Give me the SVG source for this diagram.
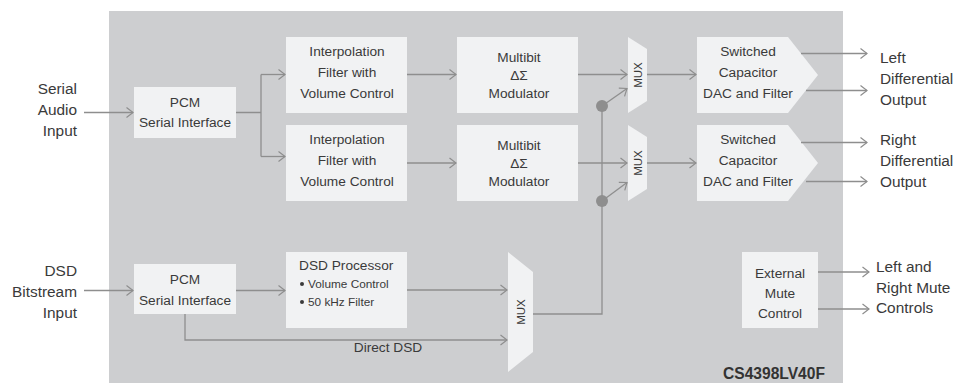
<svg xmlns="http://www.w3.org/2000/svg" width="969" height="392" viewBox="0 0 969 392">
<defs>
<marker id="ah" markerUnits="userSpaceOnUse" markerWidth="10" markerHeight="12" refX="7" refY="6" orient="auto" overflow="visible">
<path d="M0.5,1 L7,6 L0.5,11" fill="none" stroke="#8e8e8e" stroke-width="1.2"/>
</marker>
<style>
.bg{fill:#cdced0}
.box{fill:#f1f2f3}
.t{font-family:"Liberation Sans",Arial,sans-serif;font-size:13.7px;fill:#3a3a3a;text-anchor:middle}
.l{font-family:"Liberation Sans",Arial,sans-serif;font-size:15.4px;fill:#3a3a3a}
.s{font-family:"Liberation Sans",Arial,sans-serif;font-size:11.8px;fill:#3a3a3a}
.m{font-family:"Liberation Sans",Arial,sans-serif;font-size:11.5px;fill:#3a3a3a;text-anchor:middle;dominant-baseline:central}
.c{fill:none;stroke:#8e8e8e;stroke-width:1.3}
.a{marker-end:url(#ah)}
.dot{fill:#8e8e8e}
</style>
</defs>
<rect class="bg" x="109" y="11" width="734" height="372"/>

<g id="pcm1"><rect class="box" x="134" y="87" width="102" height="51"/>
<text class="t" x="185" y="107">PCM</text><text class="t" x="185" y="127">Serial Interface</text></g>
<g id="interp1"><rect class="box" x="286" y="37" width="121" height="76"/>
<text class="t" x="347" y="55.5">Interpolation</text><text class="t" x="347" y="76.5">Filter with</text><text class="t" x="347" y="97.5">Volume Control</text></g>
<g id="interp2"><rect class="box" x="286" y="125" width="121" height="76"/>
<text class="t" x="347" y="143.5">Interpolation</text><text class="t" x="347" y="164.5">Filter with</text><text class="t" x="347" y="185.5">Volume Control</text></g>
<g id="mod1"><rect class="box" x="457" y="37" width="121" height="76"/>
<text class="t" x="519" y="62">Multibit</text><text class="t" x="519" y="80">ΔΣ</text><text class="t" x="519" y="98">Modulator</text></g>
<g id="mod2"><rect class="box" x="457" y="125" width="121" height="76"/>
<text class="t" x="519" y="150">Multibit</text><text class="t" x="519" y="168">ΔΣ</text><text class="t" x="519" y="186">Modulator</text></g>
<g id="mux1"><polygon class="box" points="628,37 647,49 647,101 628,113"/>
<text class="m" transform="translate(637.5,75) rotate(-90)">MUX</text></g>
<g id="mux2"><polygon class="box" points="628,125 647,137 647,189 628,201"/>
<text class="m" transform="translate(637.5,163) rotate(-90)">MUX</text></g>
<g id="dac1"><polygon class="box" points="697,37 788,37 818,75 788,113 697,113"/>
<text class="t" x="748" y="56">Switched</text><text class="t" x="748" y="77">Capacitor</text><text class="t" x="748" y="98">DAC and Filter</text></g>
<g id="dac2"><polygon class="box" points="697,125 788,125 818,163 788,201 697,201"/>
<text class="t" x="748" y="144">Switched</text><text class="t" x="748" y="165">Capacitor</text><text class="t" x="748" y="186">DAC and Filter</text></g>
<g id="pcm2"><rect class="box" x="134" y="264" width="102" height="50"/>
<text class="t" x="185" y="284">PCM</text><text class="t" x="185" y="305">Serial Interface</text></g>
<g id="dsdproc"><rect class="box" x="286" y="252" width="121" height="76"/>
<text class="t" x="299" y="270" style="text-anchor:start">DSD Processor</text>
<circle cx="302" cy="284" r="2" fill="#3a3a3a"/><text class="s" x="308" y="288">Volume Control</text>
<circle cx="302" cy="302" r="2" fill="#3a3a3a"/><text class="s" x="308" y="306">50 kHz Filter</text></g>
<g id="mux3"><polygon class="box" points="508,252 533,272 533,352 508,372"/>
<text class="m" transform="translate(520.5,312) rotate(-90)">MUX</text></g>
<g id="mute"><rect class="box" x="742" y="252" width="76" height="76"/>
<text class="t" x="780" y="278">External</text><text class="t" x="780" y="298">Mute</text><text class="t" x="780" y="318">Control</text></g>

<g id="labels">
<text class="l" x="77" y="93.5" text-anchor="end">Serial</text>
<text class="l" x="77" y="114.5" text-anchor="end">Audio</text>
<text class="l" x="77" y="135.5" text-anchor="end">Input</text>
<text class="l" x="77" y="275.5" text-anchor="end">DSD</text>
<text class="l" x="77" y="296.5" text-anchor="end">Bitstream</text>
<text class="l" x="77" y="317.5" text-anchor="end">Input</text>
<text class="l" x="880" y="62.5">Left</text>
<text class="l" x="880" y="83.5">Differential</text>
<text class="l" x="880" y="104.5">Output</text>
<text class="l" x="880" y="144.5">Right</text>
<text class="l" x="880" y="165.5">Differential</text>
<text class="l" x="880" y="187">Output</text>
<text class="l" x="876" y="271.5">Left and</text>
<text class="l" x="876" y="292.5">Right Mute</text>
<text class="l" x="876" y="312.5">Controls</text>
<text class="t" x="388" y="352">Direct DSD</text>
<text x="825" y="379" text-anchor="end" style="font-family:'Liberation Sans',Arial,sans-serif;font-size:15.6px;font-weight:bold;fill:#333">CS4398LV40F</text>
</g>

<g id="connectors">
<path class="c a" d="M84,112.5 H133"/>
<path class="c" d="M236,112.5 H261 M261,74.5 V156.5"/>
<path class="c a" d="M261,74.5 H285"/>
<path class="c a" d="M261,156.5 H285"/>
<path class="c a" d="M407,74.5 H456"/>
<path class="c a" d="M407,163 H456"/>
<path class="c a" d="M578,74.5 H627"/>
<path class="c a" d="M578,163 H627"/>
<path class="c a" d="M647,74.5 H696"/>
<path class="c a" d="M647,163 H696"/>
<path class="c a" d="M801,53.5 H867"/>
<path class="c a" d="M806,90.5 H867"/>
<path class="c a" d="M801,142.5 H867"/>
<path class="c a" d="M806,181.5 H867"/>
<path class="c a" d="M84,290.5 H133"/>
<path class="c a" d="M236,290.5 H285"/>
<path class="c a" d="M407,290 H507"/>
<path class="c a" d="M185,314 V340 H507"/>
<path class="c" d="M533,314 H602 V106"/>
<path class="c a" d="M602,106 L627,88.5"/>
<path class="c a" d="M602,201 L627,182.5"/>
<circle class="dot" cx="602" cy="106" r="6"/>
<circle class="dot" cx="602" cy="201" r="6"/>
<path class="c a" d="M818,272 H869"/>
<path class="c a" d="M818,309 H869"/>
</g>
</svg>
